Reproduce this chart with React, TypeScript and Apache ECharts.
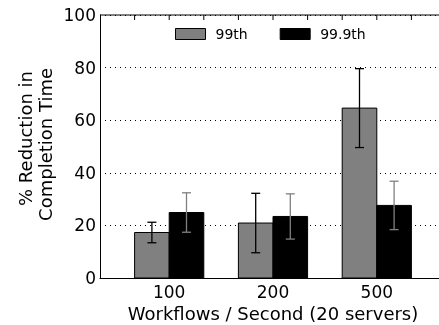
import React, { useEffect, useRef } from "react";
import * as echarts from "echarts";

const categories = ["100", "200", "500"];
const seriesNames = ["99th", "99.9th"];
const p99 = [17.3, 20.9, 64.6];
const p99Err = [3.9, 11.3, 15.0];
const p999 = [24.9, 23.4, 27.6];
const p999Err = [7.5, 8.6, 9.2];
const yTicks = [0, 20, 40, 60, 80, 100];
const topTicks = [1, 2, 3, 4, 5, 6, 7, 8, 9];

const GRAY = "#808080";
const FONT = "DejaVu Sans";
const X_MIN = 0;
const X_MAX = 10;

export default function App() {
  const ref = useRef<HTMLDivElement>(null);
  useEffect(() => {
    if (!ref.current) return;
    const chart = echarts.init(ref.current, null, { renderer: "svg" });

    const center = (i: number) => 2 + 3 * i;
    const barData = (vals: number[], off: number) =>
      vals.map((v, i) => [center(i) + off, v]);
    const errData = (vals: number[], errs: number[], off: number) =>
      vals.map((v, i) => [center(i) + off, v - errs[i], v + errs[i]]);
    const yTop = yTicks[yTicks.length - 1];

    const barRender = (fill: string) => (params: any, api: any) => {
      const x = api.value(0);
      const y = api.value(1);
      const p0 = api.coord([x - 0.5, y]);
      const p1 = api.coord([x + 0.5, 0]);
      return {
        type: "rect",
        shape: { x: p0[0], y: p0[1], width: p1[0] - p0[0], height: p1[1] - p0[1] },
        style: { fill, stroke: "#000", lineWidth: 1 },
      };
    };
    const errRender = (stroke: string) => (params: any, api: any) => {
      const x = api.value(0);
      const lo = api.coord([x, api.value(1)]);
      const hi = api.coord([x, api.value(2)]);
      const cap = 4.5;
      const style = { stroke, lineWidth: 1.3 };
      return {
        type: "group",
        children: [
          { type: "line", shape: { x1: lo[0], y1: lo[1], x2: hi[0], y2: hi[1] }, style },
          { type: "line", shape: { x1: lo[0] - cap, y1: lo[1], x2: lo[0] + cap, y2: lo[1] }, style },
          { type: "line", shape: { x1: hi[0] - cap, y1: hi[1], x2: hi[0] + cap, y2: hi[1] }, style },
        ],
      };
    };
    const tickRender = (params: any, api: any) => {
      const p = api.coord([api.value(0), yTop]);
      return {
        type: "line",
        shape: { x1: p[0], y1: p[1], x2: p[0], y2: p[1] + 5 },
        style: { stroke: "#000", lineWidth: 1 },
      };
    };
    const frameRender = (params: any, api: any) => {
      const a = api.coord([api.value(0), yTop]);
      const b = api.coord([api.value(1), yTop]);
      return {
        type: "line",
        shape: { x1: a[0], y1: a[1], x2: b[0], y2: b[1] },
        style: { stroke: "#000", lineWidth: 1 },
      };
    };

    const labelAt = (v: number) => {
      const idx = [0, 1, 2].find((i) => center(i) === v);
      return idx === undefined ? "" : categories[idx];
    };

    chart.setOption({
      animation: false,
      textStyle: { fontFamily: FONT },
      grid: {
        left: 100,
        top: 15,
        width: 346,
        height: 263,
        outerBoundsMode: "none",
        show: false,
      },
      legend: {
        left: 175,
        top: 27,
        padding: 0,
        itemWidth: 30,
        itemHeight: 11,
        itemGap: 32,
        textStyle: { fontFamily: FONT, fontSize: 14, color: "#000", padding: [0, 0, 0, 5] },
        data: [
          { name: seriesNames[0], icon: "rect", itemStyle: { color: GRAY, borderColor: "#000", borderWidth: 1 } },
          { name: seriesNames[1], icon: "rect", itemStyle: { color: "#000", borderColor: "#000", borderWidth: 1 } },
        ],
      },
      xAxis: {
        type: "value",
        min: X_MIN,
        max: X_MAX,
        interval: 1,
        position: "bottom",
        axisLine: { show: true, lineStyle: { color: "#000", width: 1 } },
        axisTick: { show: false },
        splitLine: { show: false },
        axisLabel: {
          fontFamily: FONT,
          fontSize: 17,
          color: "#000",
          margin: 5,
          formatter: (v: number) => labelAt(v),
        },
        name: "Workflows / Second (20 servers)",
        nameLocation: "middle",
        nameGap: 25,
        nameTextStyle: { fontFamily: FONT, fontSize: 18, color: "#000" },
      },
      yAxis: {
        type: "value",
        min: yTicks[0],
        max: yTop,
        interval: 20,
        axisLine: { show: true, lineStyle: { color: "#000", width: 1 } },
        axisTick: { show: false },
        axisLabel: { fontFamily: FONT, fontSize: 17, color: "#000", margin: 4 },
        splitLine: {
          show: true,
          lineStyle: { color: "#000", width: 1, type: [1, 4] },
        },
      },
      graphic: [
        {
          type: "text",
          x: 25,
          y: 71,
          rotation: Math.PI / 2,
          style: {
            text: "% Reduction in",
            fontFamily: FONT,
            fontSize: 18,
            fill: "#000",
            align: "right",
            verticalAlign: "middle",
          },
        },
        {
          type: "text",
          x: 45,
          y: 68,
          rotation: Math.PI / 2,
          style: {
            text: "Completion Time",
            fontFamily: FONT,
            fontSize: 18,
            fill: "#000",
            align: "right",
            verticalAlign: "middle",
          },
        },
      ],
      series: [
        {
          name: seriesNames[0],
          type: "custom",
          itemStyle: { color: GRAY },
          renderItem: barRender(GRAY),
          data: barData(p99, -0.5),
          z: 2,
        },
        {
          name: seriesNames[1],
          type: "custom",
          itemStyle: { color: "#000" },
          renderItem: barRender("#000"),
          data: barData(p999, 0.5),
          z: 2,
        },
        {
          name: "err99",
          type: "custom",
          renderItem: errRender("#000"),
          data: errData(p99, p99Err, -0.5),
          z: 3,
        },
        {
          name: "err999",
          type: "custom",
          renderItem: errRender(GRAY),
          data: errData(p999, p999Err, 0.5),
          z: 3,
        },
        {
          name: "topFrame",
          type: "custom",
          renderItem: frameRender,
          data: [[X_MIN, X_MAX]],
          encode: { x: [0, 1] },
          z: 4,
        },
        {
          name: "topTicks",
          type: "custom",
          renderItem: tickRender,
          data: topTicks.map((t) => [t]),
          encode: { x: 0 },
          z: 4,
        },
      ],
    });
    return () => chart.dispose();
  }, []);
  return (
    <div
      ref={ref}
      style={{ position: "fixed", left: 0, top: 0, width: 439, height: 325 }}
    />
  );
}
